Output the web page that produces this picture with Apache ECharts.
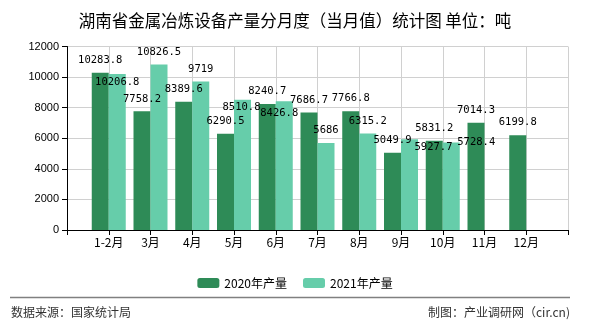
<!DOCTYPE html>
<html>
<head>
<meta charset="utf-8">
<script src="https://cdn.jsdelivr.net/npm/echarts@6/dist/echarts.min.js"></script>
<style>
html,body{margin:0;padding:0;background:#fff;}
#c{width:590px;height:330px;}
</style>
</head>
<body>
<div id="c"></div>
<script>
var categories = ['1-2月','3月','4月','5月','6月','7月','8月','9月','10月','11月','12月'];
var series2020 = [10283.8, 7758.2, 8389.6, 6290.5, 8240.7, 7686.7, 7766.8, 5049.9, 5831.2, 7014.3, 6199.8];
var series2021 = [10206.8, 10826.5, 9719, 8510.8, 8426.8, 5686, 6315.2, 5927.7, 5728.4, null, null];
var seriesNames = ['2020年产量', '2021年产量'];
var yTicks = [0, 2000, 4000, 6000, 8000, 10000, 12000];

// label displacement for some 2021 labels (index -> [dx, dy])
var move2021 = {0: [0, 21], 3: [-1, 20], 4: [-5, 25], 7: [24, 20], 8: [25, 12]};

var FONT = '"Noto Sans CJK SC", "Noto Sans", sans-serif';
var MONO = '"DejaVu Sans Mono", "Liberation Mono", monospace';

// pad categories so that ticks sit on the bar-group centers (boundaryGap false)
var xCats = [''].concat(categories).concat(['']);
function pad(arr) {
  return ['-'].concat(arr.map(function (v) { return v == null ? '-' : v; })).concat(['-']);
}

var data2020 = pad(series2020);
var data2021 = pad(series2021);

var chart = echarts.init(document.getElementById('c'), null, { renderer: 'canvas' });
chart.setOption({
  animation: false,
  backgroundColor: '#fff',
  title: {
    text: '湖南省金属冶炼设备产量分月度（当月值）统计图 单位：吨',
    left: 'center',
    top: 7,
    textStyle: { fontFamily: FONT, fontSize: 16.5, fontWeight: 'normal', color: '#000' }
  },
  legend: {
    data: seriesNames,
    left: 'center',
    top: 272,
    itemWidth: 22,
    itemHeight: 10,
    itemGap: 16,
    textStyle: { fontFamily: FONT, fontSize: 12, color: '#000' }
  },
  grid: { left: 67, right: 22, top: 46.5, bottom: 100, containLabel: false },
  xAxis: {
    type: 'category',
    data: xCats,
    boundaryGap: false,
    axisLine: { lineStyle: { color: '#000', width: 1 } },
    axisTick: { show: true, length: 5, lineStyle: { color: '#000' } },
    axisLabel: { fontFamily: FONT, fontSize: 12, color: '#000', margin: 6, interval: 0 },
    splitLine: { show: true, lineStyle: { color: '#d0d0d0', width: 1 } }
  },
  yAxis: {
    type: 'value',
    min: yTicks[0],
    max: yTicks[yTicks.length - 1],
    interval: 2000,
    axisLine: { show: true, lineStyle: { color: '#000', width: 1 } },
    axisTick: { show: true, length: 5, lineStyle: { color: '#000' } },
    axisLabel: {
      fontFamily: 'Arial, "Liberation Sans", sans-serif', fontSize: 11, color: '#000', margin: 8,
      formatter: function (v) { return String(v); }
    },
    splitLine: { show: true, lineStyle: { color: '#d0d0d0', width: 1 } }
  },
  series: [
    {
      name: seriesNames[0],
      type: 'bar',
      data: data2020,
      barWidth: 17,
      barGap: '0%',
      itemStyle: { color: '#2e8b57' },
      label: { show: true, position: 'top', distance: 7, fontFamily: MONO, fontSize: 10.5, color: '#000' }
    },
    {
      name: seriesNames[1],
      type: 'bar',
      data: data2021,
      barWidth: 17,
      barGap: '0%',
      itemStyle: { color: '#66cdaa' },
      label: { show: true, position: 'top', distance: 7, fontFamily: MONO, fontSize: 10.5, color: '#000' },
      labelLayout: function (p) {
        var m = move2021[p.dataIndex - 1];
        if (!m) return {};
        return { dx: m[0], dy: m[1] };
      }
    }
  ],
  graphic: [
    { type: 'line', shape: { x1: 10, y1: 297.5, x2: 570, y2: 297.5 }, style: { stroke: '#808080', lineWidth: 1.5 } },
    { type: 'text', left: 11, top: 306, style: { text: '数据来源：国家统计局', font: '12px ' + FONT, fill: '#333' } },
    { type: 'text', right: 20, top: 306, style: { text: '制图：产业调研网（cir.cn)', font: '12px ' + FONT, fill: '#333' } }
  ]
});
</script>
</body>
</html>
